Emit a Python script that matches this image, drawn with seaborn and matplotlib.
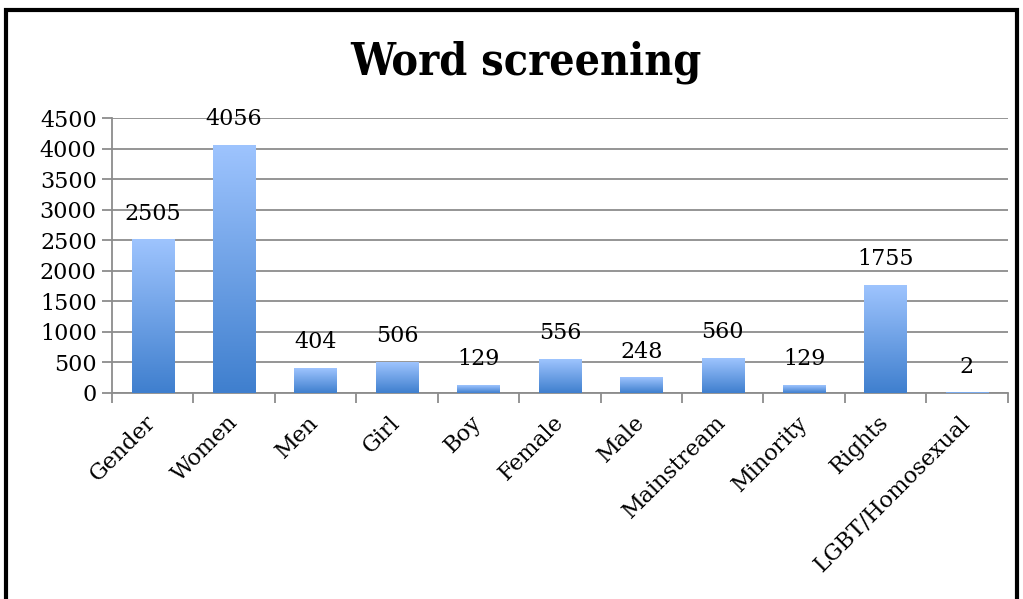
import numpy as np
import pandas as pd
import seaborn as sns
import matplotlib.pyplot as plt
from matplotlib.patches import Rectangle
from matplotlib.colors import LinearSegmentedColormap
from matplotlib.ticker import FixedLocator

words = ['Gender', 'Women', 'Men', 'Girl', 'Boy', 'Female', 'Male',
         'Mainstream', 'Minority', 'Rights', 'LGBT/Homosexual']
counts = [2505, 4056, 404, 506, 129, 556, 248, 560, 129, 1755, 2]

df = pd.DataFrame({'word': words, 'count': counts})

sns.set_style('white')
plt.rcParams['font.family'] = ['DejaVu Serif']
plt.rcParams['text.color'] = 'black'
plt.rcParams['xtick.color'] = 'black'
plt.rcParams['ytick.color'] = 'black'

fig = plt.figure(figsize=(10.23, 5.99), dpi=100)
ax = fig.add_axes([0.1095, 0.344, 0.8755, 0.459])

sns.barplot(data=df, x='word', y='count', color='#6a9de6', width=0.52, ax=ax, zorder=3)

# vertical gradient per bar, light at top, darker at bottom
grad_cmap = LinearSegmentedColormap.from_list('bar', ['#3f7fce', '#9ec4fe'])
grad = np.linspace(0, 1, 256).reshape(-1, 1)
for p in ax.patches:
    x0, y0 = p.get_x(), p.get_y()
    w, h = p.get_width(), p.get_height()
    if h <= 0:
        continue
    ax.imshow(grad, cmap=grad_cmap, origin='lower', aspect='auto',
              extent=[x0, x0 + w, y0, y0 + h], zorder=3)
    p.set_facecolor('none')
    p.set_edgecolor('none')

for i, v in enumerate(counts):
    ax.annotate(str(v), (i, v), xytext=(0, 11), textcoords='offset points',
                ha='center', va='bottom', fontsize=16)

ax.set_xlim(-0.5, len(words) - 0.5)
ax.set_ylim(0, 4500)
ax.set_yticks(range(0, 4501, 500))
ax.yaxis.grid(True, color='#8c8c8c', linewidth=1.3, zorder=0)
ax.set_axisbelow(True)

ax.set_xlabel('')
ax.set_ylabel('')
fig.text(0.514, 0.896, 'Word screening', fontsize=32, fontweight='bold',
         fontstretch='condensed', ha='center', va='center')

ax.set_xticks(range(len(words)))
ax.set_xticklabels(words, rotation=45, ha='right', va='center',
                   rotation_mode='anchor', fontsize=16)
ax.xaxis.set_minor_locator(FixedLocator(np.arange(-0.5, len(words), 1)))
ax.tick_params(axis='x', which='major', length=0, pad=19)
ax.tick_params(axis='x', which='minor', length=7, width=1.3, color='#8c8c8c', direction='out', bottom=True)
ax.tick_params(axis='y', length=7, width=1.3, color='#8c8c8c', direction='out', labelsize=16, left=True, pad=4)

for s in ['top', 'right']:
    ax.spines[s].set_visible(False)
for s in ['left', 'bottom']:
    ax.spines[s].set_color('#8c8c8c')
    ax.spines[s].set_linewidth(1.3)

# black frame around the chart (bottom runs off the image)
fig.patches.append(Rectangle((0.0055, -0.2), 0.989, 1.183, transform=fig.transFigure,
                             fill=False, edgecolor='black', linewidth=3, zorder=10))

fig.savefig('out.png', dpi=100)
